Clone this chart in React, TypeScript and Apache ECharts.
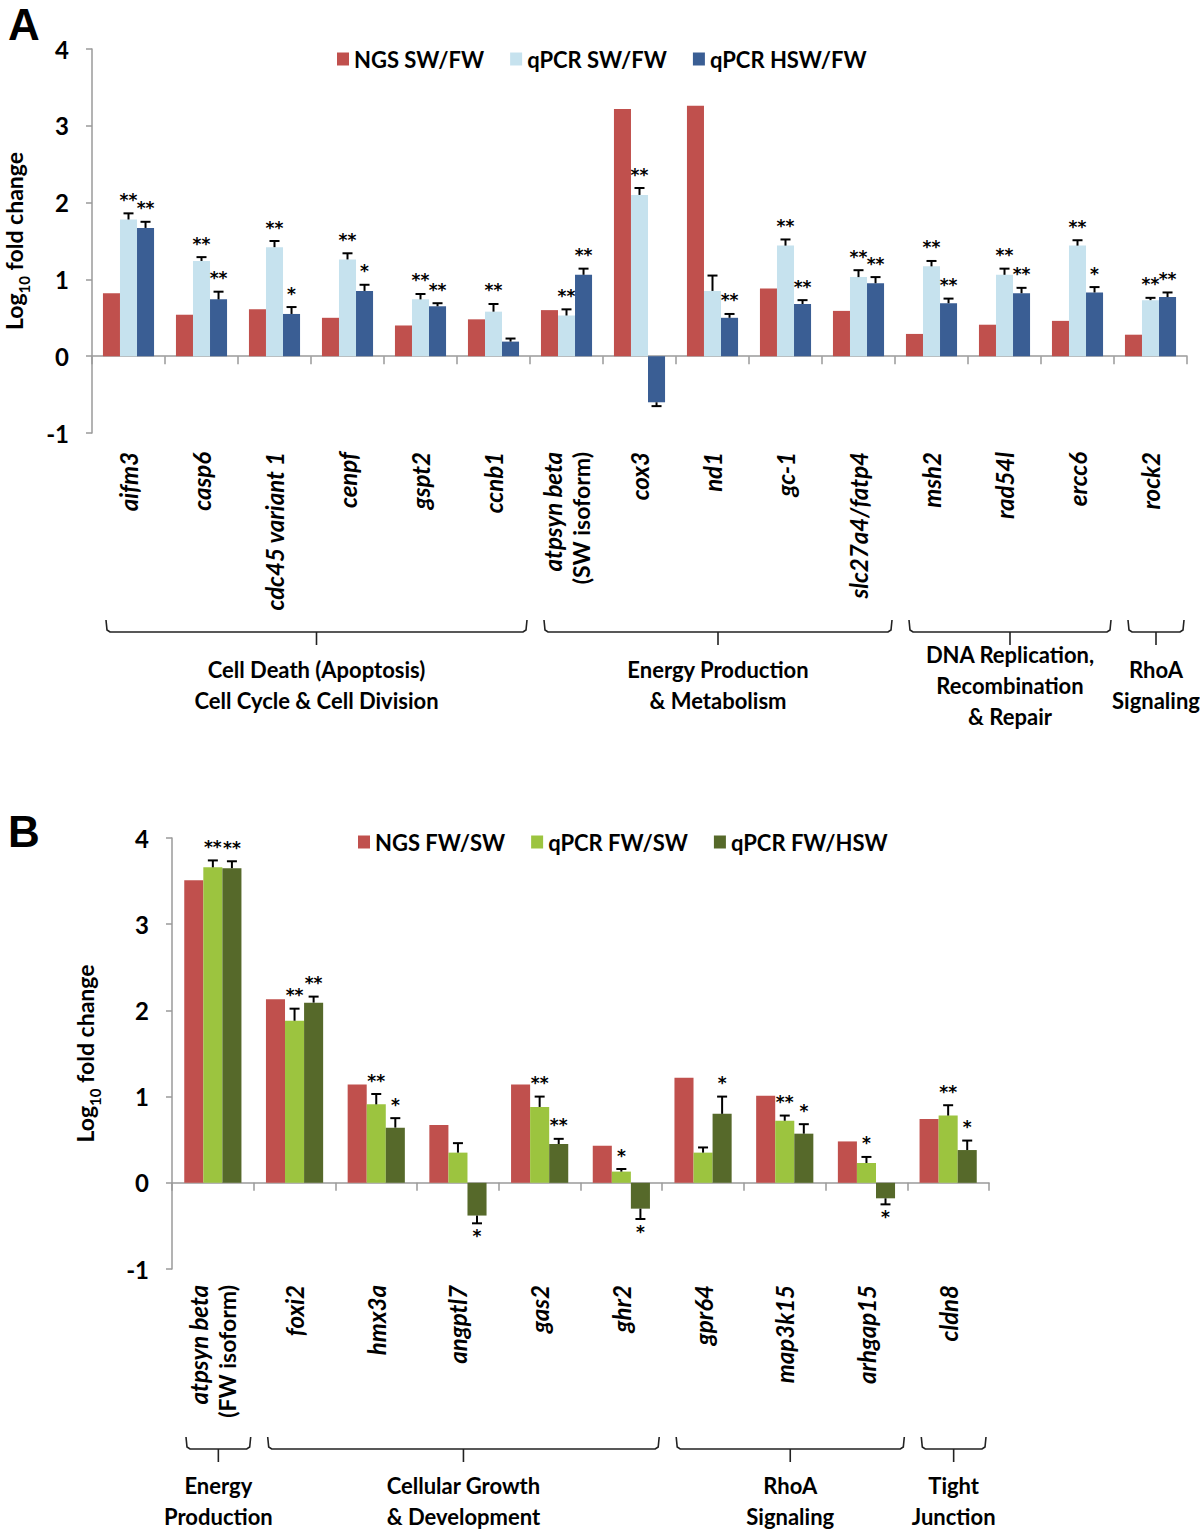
import React, { useEffect, useRef } from 'react';
import * as echarts from 'echarts';

// ---------- Panel A data ----------
const genesA = ['aifm3', 'casp6', 'cdc45 variant 1', 'cenpf', 'gspt2', 'ccnb1', 'atpsyn beta\n(SW isoform)', 'cox3', 'nd1', 'gc-1', 'slc27a4/fatp4', 'msh2', 'rad54l', 'ercc6', 'rock2'];
const ngsSwFw = [0.82, 0.54, 0.61, 0.50, 0.40, 0.48, 0.60, 3.22, 3.26, 0.88, 0.59, 0.29, 0.41, 0.46, 0.28];
const qpcrSwFw = [1.78, 1.24, 1.42, 1.26, 0.74, 0.58, 0.53, 2.10, 0.85, 1.44, 1.03, 1.17, 1.06, 1.44, 0.73];
const qpcrSwFwErr = [0.08, 0.05, 0.08, 0.08, 0.07, 0.10, 0.08, 0.09, 0.20, 0.08, 0.09, 0.07, 0.08, 0.07, 0.03];
const qpcrHswFw = [1.67, 0.74, 0.55, 0.85, 0.65, 0.19, 1.06, -0.60, 0.50, 0.68, 0.95, 0.69, 0.82, 0.83, 0.77];
const qpcrHswFwErr = [0.08, 0.10, 0.09, 0.08, 0.04, 0.04, 0.08, 0.05, 0.05, 0.05, 0.08, 0.06, 0.07, 0.07, 0.06];
const sigSwFw = ['**', '**', '**', '**', '**', '**', '**', '**', '', '**', '**', '**', '**', '**', '**'];
const sigHswFw = ['**', '**', '*', '*', '**', '', '**', '', '**', '**', '**', '**', '**', '*', '**'];
const groupNamesA = ['Cell Death (Apoptosis)\nCell Cycle & Cell Division', 'Energy Production\n& Metabolism', 'DNA Replication,\nRecombination\n& Repair', 'RhoA\nSignaling'];
const groupFirstA = [0, 6, 11, 14];
const groupLastA = [5, 10, 13, 14];
const legendA = ['NGS SW/FW', 'qPCR SW/FW', 'qPCR HSW/FW'];

// ---------- Panel B data ----------
const genesB = ['atpsyn beta\n(FW isoform)', 'foxi2', 'hmx3a', 'angptl7', 'gas2', 'ghr2', 'gpr64', 'map3k15', 'arhgap15', 'cldn8'];
const ngsFwSw = [3.51, 2.13, 1.14, 0.67, 1.14, 0.43, 1.22, 1.01, 0.48, 0.74];
const qpcrFwSw = [3.66, 1.88, 0.91, 0.35, 0.88, 0.13, 0.35, 0.72, 0.23, 0.78];
const qpcrFwSwErr = [0.08, 0.14, 0.12, 0.11, 0.12, 0.03, 0.06, 0.06, 0.07, 0.12];
const qpcrFwHsw = [3.65, 2.09, 0.64, -0.38, 0.45, -0.30, 0.80, 0.57, -0.18, 0.38];
const qpcrFwHswErr = [0.08, 0.07, 0.11, 0.09, 0.06, 0.12, 0.20, 0.11, 0.07, 0.11];
const sigFwSw = ['**', '**', '**', '', '**', '*', '', '**', '*', '**'];
const sigFwHsw = ['**', '**', '*', '*', '**', '*', '*', '*', '*', '*'];
const groupNamesB = ['Energy\nProduction', 'Cellular Growth\n& Development', 'RhoA\nSignaling', 'Tight\nJunction'];
const groupFirstB = [0, 1, 6, 9];
const groupLastB = [0, 5, 8, 9];
const legendB = ['NGS FW/SW', 'qPCR FW/SW', 'qPCR FW/HSW'];

const yTicks = [-1, 0, 1, 2, 3, 4];

// ---------- styles ----------
const FONT = 'Lato, "Open Sans", sans-serif';
const RED = '#C0504D';
const LIGHT_BLUE = '#C6E2EE';
const DARK_BLUE = '#3A5E94';
const LIGHT_GREEN = '#9CC43F';
const DARK_GREEN = '#56692A';
const AXIS_GRAY = '#9a9a9a';

function labelFormatter(v: string) {
  const parts = v.split('\n');
  if (parts.length > 1) return '{i|' + parts[0] + '}\n{n|' + parts[1] + '}';
  return '{i|' + v + '}';
}

function makeErrSeries(name: string, xIdx: number, values: number[], errs: number[], sig: string[], slot: number) {
  return {
    type: 'custom',
    name,
    xAxisIndex: xIdx,
    yAxisIndex: xIdx,
    z: 5,
    clip: false,
    encode: { x: 0, y: 1 },
    data: values.map((v, i) => [i, v, errs[i]]),
    renderItem: (params: any, api: any) => {
      const idx = api.value(0);
      const val = api.value(1);
      const err = api.value(2);
      const sign = val < 0 ? -1 : 1;
      const band = api.size([1, 0])[0];
      const bw = (band * 0.7) / 3;
      const p0 = api.coord([idx, val]);
      const cx = p0[0] + slot * bw;
      const y0 = p0[1];
      const y1 = api.coord([idx, val + sign * err])[1];
      const children: any[] = [
        { type: 'line', shape: { x1: cx, y1: y0, x2: cx, y2: y1 }, style: { stroke: '#000', lineWidth: 2 } },
        { type: 'line', shape: { x1: cx - 5, y1: y1, x2: cx + 5, y2: y1 }, style: { stroke: '#000', lineWidth: 2 } },
      ];
      const s = sig[params.dataIndex];
      if (s) {
        children.push({
          type: 'text',
          x: cx,
          y: sign > 0 ? y1 - 5 : y1 + 4,
          style: {
            text: s,
            align: 'center',
            verticalAlign: sign > 0 ? 'bottom' : 'top',
            fontSize: 17,
            fontWeight: 'bold',
            fontFamily: '"DejaVu Sans", sans-serif',
            fill: '#000',
          },
        });
      }
      return { type: 'group', children };
    },
  };
}

function yAxisFor(gridIndex: number, nameGap: number) {
  return {
    type: 'value',
    gridIndex,
    min: yTicks[0],
    max: yTicks[yTicks.length - 1],
    interval: 1,
    splitLine: { show: false },
    axisLine: { show: true, lineStyle: { color: AXIS_GRAY, width: 1.5 } },
    axisTick: { show: true, length: 6, lineStyle: { color: AXIS_GRAY, width: 1.5 } },
    axisLabel: { fontSize: 24, fontWeight: 'bold', color: '#000', fontFamily: FONT, margin: 23 },
    name: '{a|Log}{s|10}{a| fold change}',
    nameLocation: 'middle',
    nameRotate: 90,
    nameGap,
    nameTextStyle: {
      rich: {
        a: { fontSize: 23, fontWeight: 'bold', fontFamily: FONT, color: '#000', lineHeight: 34 },
        s: { fontSize: 15, fontWeight: 'bold', fontFamily: FONT, color: '#000', lineHeight: 34, verticalAlign: 'bottom' },
      },
    },
  };
}

function xAxisFor(gridIndex: number, data: string[], margin: number) {
  return {
    type: 'category',
    gridIndex,
    data,
    axisLine: { show: true, onZero: true, lineStyle: { color: AXIS_GRAY, width: 1.5 } },
    axisTick: { show: true, length: 8, alignWithLabel: false, lineStyle: { color: AXIS_GRAY, width: 1.5 } },
    axisLabel: {
      interval: 0,
      rotate: 90,
      margin,
      formatter: labelFormatter,
      rich: {
        i: { fontStyle: 'italic', fontWeight: 'bold', fontSize: 24, fontFamily: FONT, color: '#000', lineHeight: 28 },
        n: { fontWeight: 'bold', fontSize: 23, fontFamily: FONT, color: '#000', lineHeight: 28 },
      },
    },
  };
}

function legendFor(data: string[], left: number, top: number) {
  return {
    data,
    left,
    top,
    icon: 'rect',
    itemWidth: 12,
    itemHeight: 13,
    itemGap: 26,
    textStyle: { fontSize: 22, fontWeight: 'bold', fontFamily: FONT, color: '#000' },
  };
}

export default function App() {
  const ref = useRef<HTMLDivElement>(null);
  useEffect(() => {
    if (!ref.current) return;
    const chart = echarts.init(ref.current, undefined, { renderer: 'svg' });
    const option: any = {
      animation: false,
      backgroundColor: '#fff',
      grid: [
        { left: 92, top: 49, width: 1095, height: 384, outerBoundsMode: 'none', containLabel: false },
        { left: 172, top: 838, width: 817, height: 431, outerBoundsMode: 'none', containLabel: false },
      ],
      xAxis: [xAxisFor(0, genesA, 19), xAxisFor(1, genesB, 16)],
      yAxis: [yAxisFor(0, 61), yAxisFor(1, 70)],
      legend: [legendFor(legendA, 332, 43), legendFor(legendB, 353, 826)],
      series: [
        { type: 'bar', name: legendA[0], xAxisIndex: 0, yAxisIndex: 0, data: ngsSwFw, itemStyle: { color: RED }, barCategoryGap: '30%', barGap: '0%' },
        { type: 'bar', name: legendA[1], xAxisIndex: 0, yAxisIndex: 0, data: qpcrSwFw, itemStyle: { color: LIGHT_BLUE }, barCategoryGap: '30%', barGap: '0%' },
        { type: 'bar', name: legendA[2], xAxisIndex: 0, yAxisIndex: 0, data: qpcrHswFw, itemStyle: { color: DARK_BLUE }, barCategoryGap: '30%', barGap: '0%' },
        makeErrSeries('errA1', 0, qpcrSwFw, qpcrSwFwErr, sigSwFw, 0),
        makeErrSeries('errA2', 0, qpcrHswFw, qpcrHswFwErr, sigHswFw, 1),
        { type: 'bar', name: legendB[0], xAxisIndex: 1, yAxisIndex: 1, data: ngsFwSw, itemStyle: { color: RED }, barCategoryGap: '30%', barGap: '0%' },
        { type: 'bar', name: legendB[1], xAxisIndex: 1, yAxisIndex: 1, data: qpcrFwSw, itemStyle: { color: LIGHT_GREEN }, barCategoryGap: '30%', barGap: '0%' },
        { type: 'bar', name: legendB[2], xAxisIndex: 1, yAxisIndex: 1, data: qpcrFwHsw, itemStyle: { color: DARK_GREEN }, barCategoryGap: '30%', barGap: '0%' },
        makeErrSeries('errB1', 1, qpcrFwSw, qpcrFwSwErr, sigFwSw, 0),
        makeErrSeries('errB2', 1, qpcrFwHsw, qpcrFwHswErr, sigFwHsw, 1),
      ],
    };
    chart.setOption(option);

    // brackets & group labels, placed through the category axes
    const graphics: any[] = [];
    const addGroups = (xIdx: number, names: string[], first: number[], last: number[], yTop: number, yLine: number, yTick: number, yText: number) => {
      const c0 = chart.convertToPixel({ xAxisIndex: xIdx }, 0) as number;
      const c1 = chart.convertToPixel({ xAxisIndex: xIdx }, 1) as number;
      const band = c1 - c0;
      names.forEach((nm, g) => {
        const xa = (chart.convertToPixel({ xAxisIndex: xIdx }, first[g]) as number) - band / 2 + 14;
        const xb = (chart.convertToPixel({ xAxisIndex: xIdx }, last[g]) as number) + band / 2 - 3;
        const xm = (xa + xb) / 2;
        graphics.push({
          type: 'polyline',
          shape: { points: [[xa, yTop], [xa + 1, yLine - 2], [xa + 4, yLine], [xb - 4, yLine], [xb - 1, yLine - 2], [xb, yTop]] },
          style: { stroke: '#222', lineWidth: 1.6, fill: null },
        });
        graphics.push({
          type: 'line',
          shape: { x1: xm, y1: yLine, x2: xm, y2: yTick },
          style: { stroke: '#222', lineWidth: 1.6 },
        });
        graphics.push({
          type: 'text',
          x: xm,
          y: yText,
          style: {
            text: nm,
            align: 'center',
            verticalAlign: 'middle',
            fontSize: 22,
            fontWeight: 'bold',
            fontFamily: FONT,
            lineHeight: 31,
            fill: '#000',
          },
        });
      });
    };
    addGroups(0, groupNamesA, groupFirstA, groupLastA, 620, 632, 645, 685);
    addGroups(1, groupNamesB, groupFirstB, groupLastB, 1437, 1449, 1462, 1501);
    graphics.push({ type: 'text', x: 8, y: 2, style: { text: 'A', fontSize: 44, fontWeight: 'bold', fontFamily: '"Liberation Sans", Arial, sans-serif', fill: '#000' } });
    graphics.push({ type: 'text', x: 8, y: 809, style: { text: 'B', fontSize: 44, fontWeight: 'bold', fontFamily: '"Liberation Sans", Arial, sans-serif', fill: '#000' } });
    chart.setOption({ graphic: graphics });

    return () => chart.dispose();
  }, []);
  return <div ref={ref} style={{ position: 'absolute', left: 0, top: 0, width: 1200, height: 1529 }} />;
}
